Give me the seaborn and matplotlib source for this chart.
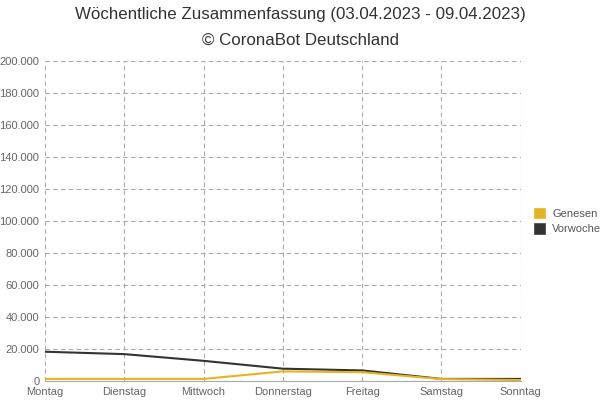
import matplotlib
matplotlib.use("Agg")
import matplotlib.pyplot as plt
import seaborn as sns
import pandas as pd
from matplotlib.ticker import FuncFormatter
from matplotlib.patches import Patch

days = ["Montag", "Dienstag", "Mittwoch", "Donnerstag", "Freitag", "Samstag", "Sonntag"]
genesen = [1300, 1300, 1300, 6000, 5500, 1200, 600]
vorwoche = [18300, 16800, 12600, 7700, 6600, 1300, 1300]

sns.set_theme(style="white")
plt.rcParams['font.family'] = ['Liberation Sans', 'DejaVu Sans']

df = pd.DataFrame({"Tag": days * 2,
                   "Wert": genesen + vorwoche,
                   "Serie": ["Genesen"] * 7 + ["Vorwoche"] * 7})
df["x"] = list(range(7)) * 2

fig = plt.figure(figsize=(6, 4), dpi=100)
ax = fig.add_axes([0.075, 0.0475, 0.793, 0.8])
colors = {"Genesen": "#e6b422", "Vorwoche": "#333333"}
sns.lineplot(data=df, x="x", y="Wert", hue="Serie", palette=colors, ax=ax,
             linewidth=1.5, legend=False, hue_order=["Vorwoche", "Genesen"])

ax.set_xlim(0, 6)
ax.set_ylim(0, 200000)
ax.set_xticks(range(7))
ax.set_xticklabels(days)
ax.set_yticks(range(0, 200001, 20000))
ax.yaxis.set_major_formatter(FuncFormatter(lambda v, p: f"{int(v):,}".replace(",", ".")))
ax.set_xlabel("")
ax.set_ylabel("")
ax.grid(True, color="#aaaaaa", linestyle=(0, (4, 3)), linewidth=0.8)
for s in ["top", "right", "left"]:
    ax.spines[s].set_visible(False)
ax.spines["bottom"].set_color("#aaaaaa")
ax.spines["bottom"].set_linewidth(0.8)
ax.tick_params(axis="both", colors="#666666", labelsize=8, length=3, width=0.8, pad=1)
ax.tick_params(axis="x", color="#aaaaaa")
ax.tick_params(axis="y", color="#aaaaaa")
for lab in ax.get_xticklabels() + ax.get_yticklabels():
    lab.set_color("#666666")

fig.text(0.5, 0.965, "Wöchentliche Zusammenfassung (03.04.2023 - 09.04.2023)",
         ha="center", va="center", fontsize=12.2, color="#333333")
fig.text(0.5, 0.9, "© CoronaBot Deutschland",
         ha="center", va="center", fontsize=12.2, color="#333333")

handles = [Patch(facecolor=colors["Genesen"], label="Genesen"),
           Patch(facecolor=colors["Vorwoche"], label="Vorwoche")]
leg = fig.legend(handles=handles, loc="center left", bbox_to_anchor=(0.888, 0.448),
                 frameon=False, fontsize=8, handlelength=1.2, handleheight=1.3,
                 handletextpad=0.55, labelspacing=0.3, borderaxespad=0, borderpad=0)
for t in leg.get_texts():
    t.set_color("#555555")

fig.savefig("out.png", dpi=100)
